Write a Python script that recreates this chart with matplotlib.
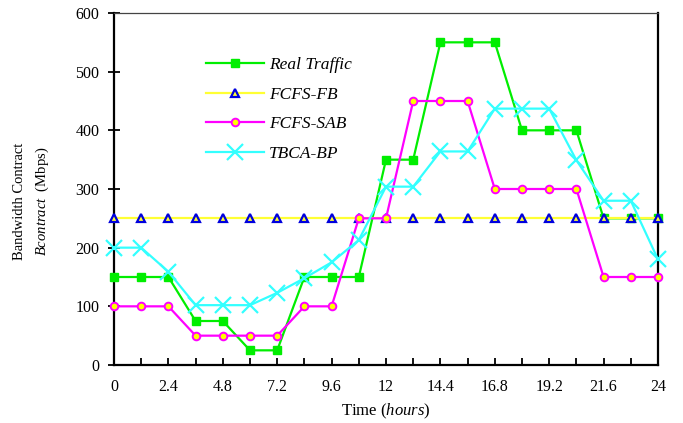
import numpy as np
import matplotlib.pyplot as plt

plt.rcParams['font.family'] = ['Liberation Serif', 'DejaVu Serif']
plt.rcParams['mathtext.fontset'] = 'custom'
plt.rcParams['mathtext.rm'] = 'Liberation Serif'
plt.rcParams['mathtext.it'] = 'Liberation Serif:italic'

# time axis, one point every 1.2 hours
hours = [round(1.2 * i, 1) for i in range(21)]

real_traffic = [150, 150, 150, 75, 75, 25, 25, 150, 150, 150, 350,
                350, 550, 550, 550, 400, 400, 400, 250, 250, 250]
fcfs_fb = [250] * 21
fcfs_sab = [100, 100, 100, 50, 50, 50, 50, 100, 100, 250, 250,
            450, 450, 450, 300, 300, 300, 300, 150, 150, 150]
tbca_bp = [200, 200, 159, 102, 102, 102, 123, 148, 175, 213, 304,
           304, 364, 364, 437, 437, 437, 349, 280, 280, 180]

xtick_labels = ["0", "", "2.4", "", "4.8", "", "7.2", "", "9.6", "", "12", "",
                "14.4", "", "16.8", "", "19.2", "", "21.6", "", "24"]

fig = plt.figure(figsize=(6.83, 4.23), dpi=100)
ax = fig.add_axes([114 / 683, 1 - 365 / 423, 544 / 683, 352 / 423])

ax.plot(hours, real_traffic, color="#00ee00", lw=1.6, marker="s", ms=5.5,
        mfc="#00ee00", mec="#00ee00", label="Real Traffic", clip_on=False, zorder=3)
ax.plot(hours, fcfs_fb, color="#ffff33", lw=1.6, marker="^", ms=5.5,
        mfc="#ffff33", mec="#0000dd", mew=1.6, label="FCFS-FB", clip_on=False, zorder=4)
ax.plot(hours, fcfs_sab, color="#ff00ff", lw=1.6, marker="o", ms=5.5,
        mfc="#ffff00", mec="#ff00ff", mew=1.4, label="FCFS-SAB", clip_on=False, zorder=5)
ax.plot(hours, tbca_bp, color="#33ffff", lw=1.6, marker="x", ms=11,
        mew=1.6, label="TBCA-BP", clip_on=False, zorder=6)

ax.set_xlim(0, 24)
ax.set_ylim(0, 600)
ax.set_xticks(hours)
ax.set_xticklabels(xtick_labels)
ax.set_yticks(range(0, 601, 100))

ax.tick_params(axis="x", direction="in", length=5, width=1.3, pad=10, labelsize=11.5)
ax.tick_params(axis="y", direction="inout", length=9, width=1.3, pad=6, labelsize=11.5)

for side in ["left", "bottom", "right"]:
    ax.spines[side].set_linewidth(1.6)
ax.spines["top"].set_linewidth(0.9)
ax.spines["top"].set_color("#444444")

ax.set_xlabel(r"Time $\mathit{(hours)}$", fontsize=12, labelpad=5)

fig.text(20 / 683, 1 - 201 / 423, "Bandwidth Contract", rotation=90,
         ha="center", va="center", fontsize=10.5)
fig.text(42 / 683, 1 - 201 / 423, r"$\mathit{Bcontract}$  (Mbps)", rotation=90,
         ha="center", va="center", fontsize=10.5)

leg = ax.legend(loc="upper left", bbox_to_anchor=(0.157, 0.895), frameon=False,
                handlelength=3.3, labelspacing=0.78, fontsize=12.5,
                handletextpad=0.3, borderaxespad=0)
for t in leg.get_texts():
    t.set_fontstyle("italic")

fig.savefig("out.png", dpi=100)
